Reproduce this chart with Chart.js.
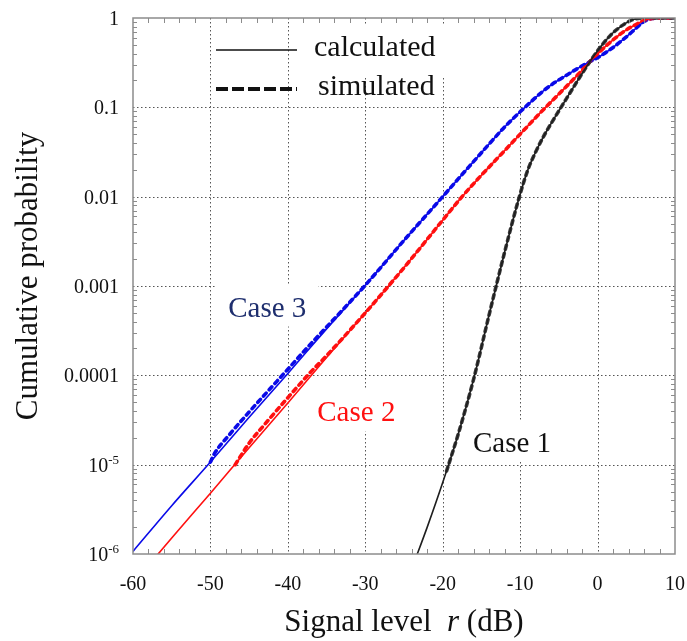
<!DOCTYPE html>
<html><head><meta charset="utf-8">
<script src="https://cdn.jsdelivr.net/npm/chart.js@4/dist/chart.umd.min.js"></script>
<style>html,body{margin:0;padding:0;background:#fff}#wrap{width:687px;height:641px;position:relative}</style>
</head><body><div id="wrap"><canvas id="c" width="687" height="641"></canvas></div>
<script>
// ---------- data ----------
const caseNames = ['Case 1', 'Case 2', 'Case 3'];
const xTicks = [-60, -50, -40, -30, -20, -10, 0, 10];
const xTickLabels = ['-60', '-50', '-40', '-30', '-20', '-10', '0', '10'];
const yTicks = [1, 0.1, 0.01, 0.001, 0.0001, 1e-5, 1e-6];
const yTickLabels = ['1', '0.1', '0.01', '0.001', '0.0001', '10^-5', '10^-6'];
const legendLabels = ['calculated', 'simulated'];
const xTitle = ['Signal level  ', 'r', ' (dB)'];
const yTitle = 'Cumulative probability';

// Case 1 (black)
const case1CalcX = [-23.8, -22, -20, -18, -16, -14, -12, -10.1, -9, -8, -7, -5.5, -4, -2.5, -1, 0.5, 2, 3.5, 4.5, 5.5, 6.5, 10];
const case1CalcP = [7.59e-7, 2.0e-6, 6.31e-6, 2.19e-5, 9.12e-5, 4.79e-4, 2.4e-3, 1.0e-2, 2.0e-2, 3.16e-2, 4.68e-2, 7.76e-2, 0.126, 0.204, 0.324, 0.49, 0.684, 0.861, 0.955, 0.995, 1, 1];
const case1SimX = [-19.5, -18, -16, -14, -12, -10.1, -9, -8, -7, -5.5, -4, -2.5, -1, 0.5, 2, 3.5, 4.5, 5.5, 6.5, 10];
const case1SimP = [8.5e-6, 2.19e-5, 9.12e-5, 4.79e-4, 2.4e-3, 1.0e-2, 2.0e-2, 3.16e-2, 4.68e-2, 7.76e-2, 0.126, 0.204, 0.324, 0.49, 0.684, 0.861, 0.955, 0.995, 1, 1];

// Case 2 (red)
const case2CalcX = [-57.6, -55, -50, -45, -40, -35, -30, -27, -24, -21, -17.5, -15, -12.5, -10, -7.5, -5, -2.5, -1, 0.5, 2, 3.5, 5, 6, 7, 7.6, 10];
const case2CalcP = [8.18e-7, 1.51e-6, 4.79e-6, 1.55e-5, 4.9e-5, 1.58e-4, 5.0e-4, 1.0e-3, 2.04e-3, 4.27e-3, 1.0e-2, 1.74e-2, 2.95e-2, 5.01e-2, 8.51e-2, 0.141, 0.234, 0.324, 0.437, 0.569, 0.716, 0.851, 0.938, 0.986, 1, 1];
const case2SimX = [-46.8, -45, -43, -40, -37, -35, -30, -27, -24, -21, -17.5, -15, -12.5, -10, -7.5, -5, -2.5, -1, 0.5, 2, 3.5, 5, 6, 7, 7.6, 10];
const case2SimP = [1.0e-5, 1.74e-5, 2.82e-5, 5.62e-5, 1.1e-4, 1.66e-4, 5.0e-4, 1.0e-3, 2.04e-3, 4.27e-3, 1.0e-2, 1.74e-2, 2.95e-2, 5.01e-2, 8.51e-2, 0.141, 0.234, 0.324, 0.437, 0.569, 0.716, 0.851, 0.938, 0.986, 1, 1];

// Case 3 (blue)
const case3CalcX = [-60, -55, -50, -45, -40, -35, -30, -25, -20, -18, -16, -14, -12, -10, -8.5, -7, -5.5, -4, -2.5, -1, 0, 1, 2, 3, 4, 5, 6, 7, 7.6, 10];
const case3CalcP = [1.07e-6, 3.47e-6, 1.07e-5, 3.39e-5, 1.05e-4, 3.31e-4, 1.02e-3, 3.24e-3, 1.0e-2, 1.58e-2, 2.48e-2, 3.89e-2, 6.03e-2, 8.91e-2, 0.1175, 0.153, 0.1905, 0.229, 0.275, 0.324, 0.359, 0.407, 0.468, 0.547, 0.646, 0.773, 0.912, 0.986, 1, 1];
const case3SimX = [-50, -49.5, -47.5, -45, -42.5, -40, -37.5, -35, -30, -25, -20, -18, -16, -14, -12, -10, -8.5, -7, -5.5, -4, -2.5, -1, 0, 1, 2, 3, 4, 5, 6, 7, 7.6, 10];
const case3SimP = [1.07e-5, 1.32e-5, 2.19e-5, 3.89e-5, 6.76e-5, 1.17e-4, 2.04e-4, 3.47e-4, 1.02e-3, 3.24e-3, 1.0e-2, 1.58e-2, 2.48e-2, 3.89e-2, 6.03e-2, 8.91e-2, 0.1175, 0.153, 0.1905, 0.229, 0.275, 0.324, 0.359, 0.407, 0.468, 0.547, 0.646, 0.773, 0.912, 0.986, 1, 1];

// annotation anchors (data space) for the case labels
const caseLabelX = [-16.1, -36.2, -47.7];
const caseLabelY = [1.39e-5, 3.05e-5, 4.55e-4];

// ---------- styles ----------
const SERIF = '"Liberation Serif", "Times New Roman", serif';
const C_BLACK = '#1e1e1e', C_BLACK_SIM = '#3c3c3c', C_RED = '#ff1010', C_BLUE = '#0a0ae8';
const caseLabelColors = ['#111111', '#ff1010', '#1e2e6e'];

function pts(xs, ys) { return xs.map((x, i) => ({ x: x, y: ys[i] })); }
function calcDs(label, xs, ys, color) {
  return { label, data: pts(xs, ys), borderColor: color, backgroundColor: color, borderWidth: 1.6,
    pointRadius: 0, tension: 0.4, cubicInterpolationMode: 'monotone', fill: false };
}
function simDs(label, xs, ys, color) {
  return { label, data: pts(xs, ys), borderColor: color, backgroundColor: color, borderWidth: 3.6,
    borderDash: [4, 4.5], borderCapStyle: 'round', pointRadius: 0, tension: 0.4,
    cubicInterpolationMode: 'monotone', fill: false };
}

const decorPlugin = {
  id: 'decor',
  beforeDatasetsDraw(chart) {
    const { ctx, chartArea: a, scales: { x, y } } = chart;
    ctx.save();
    ctx.lineWidth = 1;
    ctx.strokeStyle = '#555';
    ctx.setLineDash([1.5, 2.5]);
    xTicks.forEach(v => {
      if (v <= x.min || v >= x.max) return;
      const px = Math.round(x.getPixelForValue(v)) + 0.5;
      ctx.beginPath(); ctx.moveTo(px, a.top); ctx.lineTo(px, a.bottom); ctx.stroke();
    });
    yTicks.forEach(v => {
      if (v <= y.min || v >= y.max) return;
      const py = Math.round(y.getPixelForValue(v)) + 0.5;
      ctx.beginPath(); ctx.moveTo(a.left, py); ctx.lineTo(a.right, py); ctx.stroke();
    });
    ctx.setLineDash([]);
    // white boxes behind labels (they mask the grid in the reference)
    ctx.fillStyle = '#fff';
    ctx.font = '29px ' + SERIF;
    caseNames.forEach((n, i) => {
      const px = x.getPixelForValue(caseLabelX[i]);
      const py = y.getPixelForValue(caseLabelY[i]);
      const w = ctx.measureText(n).width;
      ctx.fillRect(px - 12, py - 32, w + 24, 42);
    });
    ctx.font = '30px ' + SERIF;
    const wl = ctx.measureText(legendLabels[0]).width;
    ctx.fillRect(a.left + 178, a.top + 8, wl + 20, 50);
    ctx.restore();
  },
  afterDatasetsDraw(chart) {
    const { ctx, chartArea: a, scales: { x, y } } = chart;
    ctx.save();
    // frame
    ctx.strokeStyle = '#8c8c8c';
    ctx.lineWidth = 1.5;
    ctx.strokeRect(a.left, a.top, a.right - a.left, a.bottom - a.top);
    // minor ticks
    ctx.lineWidth = 1;
    ctx.beginPath();
    for (let v = -58; v < 10; v += 2) {
      if (v % 10 === 0) continue;
      const px = Math.round(x.getPixelForValue(v)) + 0.5;
      ctx.moveTo(px, a.bottom); ctx.lineTo(px, a.bottom - 5);
      ctx.moveTo(px, a.top); ctx.lineTo(px, a.top + 5);
    }
    for (let d = -6; d < 0; d++) {
      for (let m = 2; m <= 9; m++) {
        const py = Math.round(y.getPixelForValue(m * Math.pow(10, d))) + 0.5;
        ctx.moveTo(a.left, py); ctx.lineTo(a.left + 4, py);
        ctx.moveTo(a.right, py); ctx.lineTo(a.right - 4, py);
      }
    }
    ctx.stroke();

    // tick labels
    ctx.fillStyle = '#111';
    ctx.font = '20px ' + SERIF;
    ctx.textBaseline = 'alphabetic';
    ctx.textAlign = 'center';
    xTicks.forEach((v, i) => {
      ctx.fillText(xTickLabels[i], x.getPixelForValue(v), a.bottom + 36);
    });
    ctx.textAlign = 'left';
    yTicks.forEach((v, i) => {
      const py = y.getPixelForValue(v) + 7;
      const lab = yTickLabels[i];
      const rightX = a.left - 14;
      if (lab.indexOf('^') >= 0) {
        const parts = lab.split('^');
        ctx.font = '20px ' + SERIF;
        const w1 = ctx.measureText(parts[0]).width;
        ctx.font = '13px ' + SERIF;
        const w2 = ctx.measureText(parts[1]).width;
        const sx = rightX - w1 - w2;
        ctx.font = '20px ' + SERIF;
        ctx.fillText(parts[0], sx, py);
        ctx.font = '13px ' + SERIF;
        ctx.fillText(parts[1], sx + w1, py - 8);
      } else {
        ctx.font = '20px ' + SERIF;
        const w = ctx.measureText(lab).width;
        ctx.fillText(lab, rightX - w, py);
      }
    });

    // axis titles
    ctx.fillStyle = '#111';
    const fN = '31px ' + SERIF, fI = 'italic 31px ' + SERIF;
    ctx.font = fN; const w0 = ctx.measureText(xTitle[0]).width;
    ctx.font = fI; const w1 = ctx.measureText(xTitle[1]).width;
    ctx.font = fN; const w2 = ctx.measureText(xTitle[2]).width;
    let sx = (a.left + a.right) / 2 - (w0 + w1 + w2) / 2;
    const by = a.bottom + 77;
    ctx.font = fN; ctx.fillText(xTitle[0], sx, by);
    ctx.font = fI; ctx.fillText(xTitle[1], sx + w0, by);
    ctx.font = fN; ctx.fillText(xTitle[2], sx + w0 + w1, by);

    ctx.save();
    ctx.translate(37, 276);
    ctx.rotate(-Math.PI / 2);
    ctx.textAlign = 'center';
    ctx.font = fN;
    ctx.fillText(yTitle, 0, 0);
    ctx.restore();

    // legend
    ctx.strokeStyle = '#111';
    ctx.lineWidth = 1.5;
    ctx.beginPath(); ctx.moveTo(a.left + 83, a.top + 32); ctx.lineTo(a.left + 164, a.top + 32); ctx.stroke();
    ctx.lineWidth = 4;
    ctx.setLineDash([12, 4]);
    ctx.beginPath(); ctx.moveTo(a.left + 83, a.top + 71); ctx.lineTo(a.left + 164, a.top + 71); ctx.stroke();
    ctx.setLineDash([]);
    ctx.font = '30px ' + SERIF;
    ctx.fillText(legendLabels[0], a.left + 181, a.top + 38);
    ctx.fillText(legendLabels[1], a.left + 185, a.top + 77);

    // case labels
    ctx.font = '29px ' + SERIF;
    caseNames.forEach((n, i) => {
      ctx.fillStyle = caseLabelColors[i];
      ctx.fillText(n, x.getPixelForValue(caseLabelX[i]), y.getPixelForValue(caseLabelY[i]));
    });
    ctx.restore();
  }
};

new Chart(document.getElementById('c'), {
  type: 'line',
  data: {
    datasets: [
      calcDs('Case 1 calculated', case1CalcX, case1CalcP, C_BLACK),
      calcDs('Case 2 calculated', case2CalcX, case2CalcP, C_RED),
      calcDs('Case 3 calculated', case3CalcX, case3CalcP, C_BLUE),
      simDs('Case 1 simulated', case1SimX, case1SimP, C_BLACK_SIM),
      simDs('Case 2 simulated', case2SimX, case2SimP, C_RED),
      simDs('Case 3 simulated', case3SimX, case3SimP, C_BLUE)
    ]
  },
  options: {
    responsive: false,
    animation: false,
    devicePixelRatio: 1,
    layout: { padding: { left: 0, right: 12, top: 18, bottom: 0 } },
    plugins: { legend: { display: false }, tooltip: { enabled: false } },
    scales: {
      x: { type: 'linear', min: -60, max: 10,
        ticks: { display: false }, grid: { display: false }, border: { display: false },
        afterFit(s) { s.height = 87; } },
      y: { type: 'logarithmic', min: 1e-6, max: 1,
        ticks: { display: false }, grid: { display: false }, border: { display: false },
        afterFit(s) { s.width = 133; } }
    }
  },
  plugins: [decorPlugin]
});
</script>
</body></html>
